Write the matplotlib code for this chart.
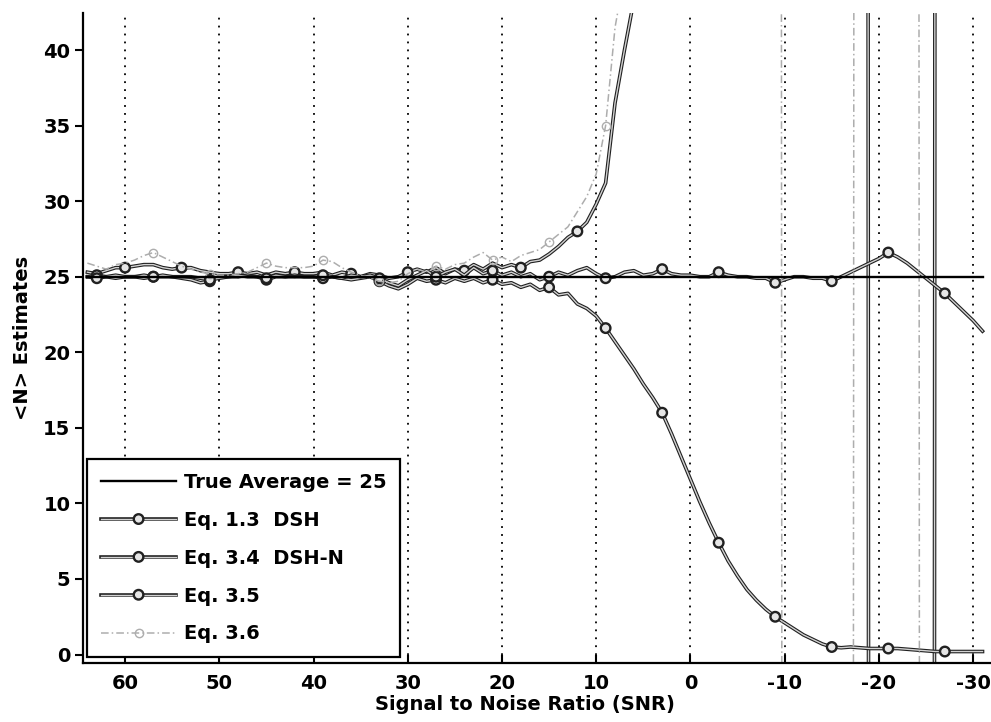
import numpy as np
import matplotlib
matplotlib.use("Agg")
import matplotlib.pyplot as plt
import matplotlib.patheffects as pe

# SNR grid (dB), 1 dB steps from high to low SNR
snr = list(range(64, -32, -1))

TRUE_AVG = 25

# Eq. 1.3 DSH: blows up below ~8 dB, then poles near -18.9 and -25.9 (off scale values)
eq13_dsh = [
    25.3, 25.2, 25.4, 25.6, 25.6, 25.7, 25.8, 25.8, 25.6, 25.5,   # 64..55
    25.6, 25.6, 25.4, 25.3, 25.2, 25.2, 25.3, 25.2, 25.3, 25.1,   # 54..45
    25.3, 25.2, 25.3, 25.2, 25.2, 25.3, 25.1, 25.3, 25.2, 25.0,   # 44..35
    25.2, 25.1, 24.9, 25.0, 25.3, 25.5, 25.3, 25.6, 25.2, 25.5,   # 34..25
    25.4, 25.8, 25.5, 25.9, 25.6, 25.8, 25.6, 26.0, 26.1, 26.5,   # 24..15
    27.0, 27.6, 28.0, 28.6, 29.8, 31.2, 36.5, 40.0, 43.3, 60.0,   # 14..5
    900, 900, 900, 900, 900, 900, 900, 900, 900, 900,             # 4..-5
    900, 900, 900, 900, 900, 900, 900, 900, 900, 900,             # -6..-15
    900, 900, 900, -100, -900, -900, -900, -900, -900, -900,      # -16..-25
    100, 900, 900, 900, 900, 900,                                 # -26..-31
]

# Eq. 3.4 DSH-N: drops towards zero at low SNR
eq34_dshn = [
    25.0, 25.1, 25.0, 24.9, 25.0, 25.0, 25.1, 25.0, 25.0, 25.0,   # 64..55
    24.9, 24.8, 24.6, 24.7, 25.0, 25.0, 25.0, 25.1, 25.0, 24.8,   # 54..45
    25.0, 25.0, 25.1, 25.0, 25.0, 24.9, 25.0, 24.9, 24.8, 24.9,   # 44..35
    25.0, 24.7, 24.4, 24.2, 24.5, 24.9, 24.7, 24.8, 24.6, 24.9,   # 34..25
    24.7, 24.9, 24.6, 24.8, 24.5, 24.6, 24.3, 24.5, 24.1, 24.3,   # 24..15
    23.8, 23.9, 23.2, 22.9, 22.4, 21.6, 20.7, 19.8, 18.9, 17.9,   # 14..5
    17.0, 16.0, 14.6, 13.1, 11.6, 10.1, 8.7, 7.4, 6.2, 5.2,       # 4..-5
    4.3, 3.6, 3.0, 2.5, 2.1, 1.7, 1.3, 1.0, 0.7, 0.5,             # -6..-15
    0.45, 0.5, 0.45, 0.4, 0.4, 0.4, 0.4, 0.35, 0.3, 0.25,         # -16..-25
    0.2, 0.2, 0.2, 0.2, 0.2, 0.2,                                 # -26..-31
]

# Eq. 3.5: stays near the true average
eq35 = [
    25.0, 24.9, 25.0, 25.1, 25.0, 25.0, 24.9, 25.0, 25.1, 25.0,   # 64..55
    25.0, 25.0, 24.9, 24.8, 24.9, 25.0, 25.1, 25.0, 25.0, 24.9,   # 54..45
    25.1, 25.0, 25.0, 25.0, 25.0, 25.1, 25.0, 24.9, 25.1, 25.0,   # 44..35
    25.1, 24.9, 24.6, 24.4, 24.8, 25.1, 25.4, 25.0, 25.3, 25.5,   # 34..25
    25.1, 25.6, 25.2, 25.4, 25.1, 25.3, 25.0, 25.2, 24.8, 25.0,   # 24..15
    25.3, 25.1, 25.4, 25.6, 25.2, 24.9, 25.0, 25.3, 25.4, 25.1,   # 14..5
    25.2, 25.5, 25.2, 25.1, 25.1, 25.0, 25.0, 25.3, 25.1, 25.0,   # 4..-5
    25.0, 24.9, 24.9, 24.6, 24.8, 25.0, 25.0, 24.9, 24.9, 24.7,   # -6..-15
    25.0, 25.3, 25.6, 25.9, 26.2, 26.6, 26.3, 25.9, 25.4, 24.9,   # -16..-25
    24.4, 23.9, 23.3, 22.7, 22.1, 21.4,                           # -26..-31
]

# Eq. 3.6: noisier, blows up first, poles near -9.7, -17.3, -24.3
eq36 = [
    25.9, 25.7, 25.5, 25.8, 25.9, 26.1, 26.4, 26.6, 26.3, 26.0,   # 64..55
    25.7, 25.5, 25.3, 25.2, 25.1, 25.1, 25.2, 25.3, 25.6, 25.9,   # 54..45
    25.7, 25.6, 25.6, 25.6, 25.7, 26.1, 26.0, 25.6, 25.3, 25.1,   # 44..35
    24.9, 24.7, 24.6, 24.7, 25.2, 25.5, 25.3, 25.7, 25.5, 25.8,   # 34..25
    25.9, 26.3, 26.6, 26.1, 26.3, 26.0, 26.4, 26.6, 26.8, 27.3,   # 24..15
    27.8, 28.3, 29.3, 30.3, 31.8, 35.0, 41.5, 45.0, 700, 700,     # 14..5
    700, 700, 700, 700, 700, 700, 700, 700, 700, 700,             # 4..-5
    700, 700, 700, 700, -300, -300, -300, -300, -300, -300,       # -6..-15
    -300, -300, 700, 700, 700, 700, 700, 700, 300, -700,          # -16..-25
    -700, -700, -700, -700, -700, -700,                           # -26..-31
]

x_ticks = [60, 50, 40, 30, 20, 10, 0, -10, -20, -30]
y_ticks = [0, 5, 10, 15, 20, 25, 30, 35, 40]

plt.rcParams['font.family'] = 'DejaVu Sans'
plt.rcParams['font.weight'] = 'bold'
plt.rcParams['axes.unicode_minus'] = False

fig = plt.figure(figsize=(9.91, 7.22), dpi=100)
ax = fig.add_axes([0.0838, 0.0817, 0.9162, 0.9003])

# scanned look: thin black outline around a pale core
outline = [pe.Stroke(linewidth=2.6, foreground='#202020'), pe.Normal()]
dark = dict(color='#d2d2d2', lw=1.0, marker='o', ms=6, mfc='#e6e6e6',
            mec='#202020', mew=0.8, path_effects=outline)

ax.plot(snr, [TRUE_AVG] * len(snr), color='black', lw=1.7,
        label='True Average = 25', zorder=5)
ax.plot(snr, eq13_dsh, markevery=(4, 6), label='Eq. 1.3  DSH', **dark)
ax.plot(snr, eq34_dshn, markevery=(1, 6), label='Eq. 3.4  DSH-N', **dark)
ax.plot(snr, eq35, markevery=(1, 6), label='Eq. 3.5', **dark)
ax.plot(snr, eq36, color='#adadad', lw=1.1, ls=(0, (5, 2, 1, 2)),
        marker='o', ms=6, mfc='none', mec='#adadad', markevery=(7, 6),
        label='Eq. 3.6')

ax.set_xlim(64.46, -31.9)
ax.set_ylim(-0.56, 42.45)
ax.set_xticks(x_ticks)
ax.set_yticks(y_ticks)
ax.xaxis.grid(True, linestyle=(0, (1, 3.4)), color='black', lw=1.3)

for s in ['top', 'right']:
    ax.spines[s].set_visible(False)
for s in ['left', 'bottom']:
    ax.spines[s].set_linewidth(1.6)

ax.tick_params(axis='x', direction='in', length=6, width=1.5, pad=8, labelsize=14)
ax.tick_params(axis='y', direction='out', length=6, width=1.5, pad=3, labelsize=14)

ax.set_xlabel('Signal to Noise Ratio (SNR)', fontsize=14, fontweight='bold')
ax.set_ylabel('<N> Estimates', fontsize=14, fontweight='bold')
ax.xaxis.set_label_coords(0.487, -0.049)
ax.yaxis.set_label_coords(-0.056, 0.5)

leg = ax.legend(loc='lower left', bbox_to_anchor=(0.0044, 0.0092),
                borderaxespad=0, fontsize=14, handlelength=3.9,
                handletextpad=0.4, labelspacing=0.97, borderpad=0.7,
                fancybox=False, framealpha=1)
leg.get_frame().set_edgecolor('black')
leg.get_frame().set_linewidth(1.6)
leg.set_zorder(10)

fig.savefig('out.png', dpi=100)
